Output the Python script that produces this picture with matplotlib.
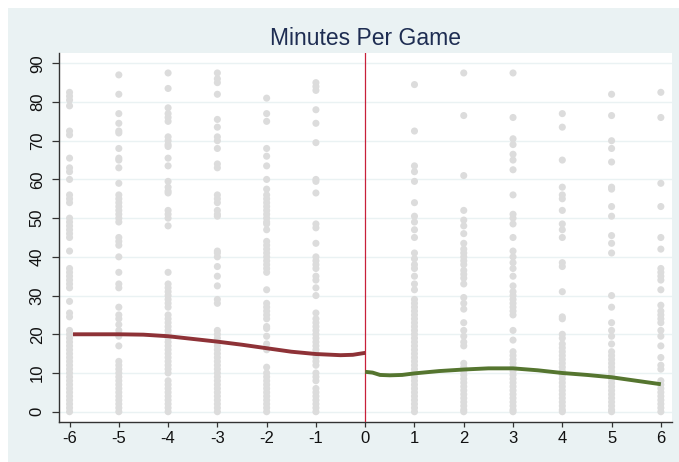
import matplotlib
matplotlib.use('Agg')
import matplotlib.pyplot as plt
from matplotlib.patches import Rectangle

plt.rcParams['font.family'] = ['Liberation Sans', 'DejaVu Sans']
plt.rcParams['axes.unicode_minus'] = False

# seasons relative to the event (x) and minutes per game of each player (y)
col_x = [-6, -5, -4, -3, -2, -1, 1, 2, 3, 4, 5, 6]

col_m6 = [82.5, 81.5, 80.5, 79, 72.5, 71.5, 65.5, 63, 62, 60, 56, 55, 54, 50, 49, 48,
          47, 46, 45, 41.5, 37, 36, 35, 34, 33, 32, 28.5, 25.5, 24.5, 21, 20, 19, 18,
          17, 16, 15, 14, 13, 12, 11, 10, 9, 8, 7, 6, 5, 4, 3, 2, 1, 0]
col_m5 = [87, 82, 77, 74.5, 72.5, 72, 68, 65.5, 65, 63, 59, 56, 55, 54, 53, 52, 51, 50,
          49, 45, 44, 43, 40, 36, 33, 32, 27, 25, 24, 22.5, 21, 20, 19.5, 17, 13, 12,
          11, 10, 9, 8, 7, 6, 5, 4, 3, 2, 1, 0]
col_m4 = [87.5, 83.5, 78.5, 77, 76, 75, 71, 70, 69, 68.5, 65.5, 63.5, 59.5, 58, 57,
          56.5, 52, 51, 50, 48, 36, 33, 32, 31, 30, 29, 28, 27, 25, 24, 23, 22, 21, 20,
          19.5, 19, 18, 17, 16, 15, 14, 13, 12, 11, 10, 8, 7, 6, 5, 4, 3, 2, 1, 0]
col_m3 = [87.5, 86, 85, 82, 75.5, 73.5, 71, 70, 68, 64, 63, 56, 55, 54, 52, 51, 50.5,
          41.5, 41, 40, 37.5, 35, 32.5, 29, 28, 21, 20, 19, 18, 17, 16, 15, 14, 13, 12,
          11, 10, 9, 8, 7, 6, 5, 4, 3, 2, 1, 0]
col_m2 = [81, 77, 75, 68, 66, 63.5, 60, 57.5, 56, 55, 54, 53, 52, 51, 50, 49, 48.5, 47,
          44, 43, 42, 41, 40, 39, 38, 37, 36, 31.5, 28, 27, 26, 25, 24, 22, 21.5, 19.5,
          17.5, 16, 11.5, 10, 9, 8, 7, 6, 5, 4, 3, 2, 1, 0]
col_m1 = [85, 84, 83, 78, 74.5, 69.5, 60, 59.5, 56.5, 48.5, 47.5, 43.5, 40, 39, 38, 37,
          35, 34, 32, 30, 25.5, 24, 23, 22, 21, 20, 19, 18, 17, 16, 15, 14, 13, 12, 10,
          9, 8, 6, 5, 4, 3, 2, 1, 0]
col_p1 = [84.5, 72.5, 63.5, 62, 59.5, 54, 50.5, 49, 47, 45, 41, 39.5, 38, 37, 35, 33,
          31.5, 29, 28, 27, 26, 25, 24, 23, 22, 21, 20, 19, 18, 17, 16, 15, 14, 13, 12,
          11, 10, 9, 8, 7, 6, 5, 4, 3, 2, 1, 0]
col_p2 = [87.5, 76.5, 61, 52, 49.5, 48, 46, 43.5, 42, 41, 40, 39, 38, 36.5, 35.5, 34.5,
          33, 29.5, 28, 26.5, 23, 21, 19.5, 18, 17, 12.5, 11.5, 10.5, 9.5, 8.5, 7.5, 6.5,
          5.5, 4.5, 3.5, 2.5, 1.5, 0.5, 0]
col_p3 = [87.5, 76, 70.5, 69, 66.5, 65, 62.5, 56, 51, 50, 48.5, 45, 41.5, 40, 38.5, 37,
          35, 32.5, 31, 30, 29, 28, 27, 26, 25, 21, 18.5, 15.5, 14.5, 13.5, 12.5, 11.5,
          10.5, 9.5, 8.5, 7.5, 6.5, 5.5, 4.5, 3.5, 2.5, 1.5, 0.5, 0]
col_p4 = [77, 73.5, 65, 58, 56, 55, 52, 48.5, 47, 45, 38.5, 37.5, 31, 24.5, 24, 20, 19,
          17.5, 16.5, 15.5, 14.5, 13.5, 12.5, 11.5, 10.5, 9.5, 8.5, 7.5, 6.5, 5.5, 4.5,
          3.5, 2.5, 1.5, 0.5, 0]
col_p5 = [82, 76.5, 70, 68, 64.5, 58, 57.5, 53, 50.5, 45.5, 43.5, 41, 30, 27, 23, 21,
          19.5, 17.5, 15.5, 14.5, 13.5, 12.5, 11.5, 10.5, 9.5, 8.5, 7.5, 6.5, 5.5, 4.5,
          3.5, 2.5, 1.5, 0.5, 0]
col_p6 = [82.5, 76, 59, 53, 45, 42, 37, 36, 35, 34, 31.5, 27.5, 26, 25, 24, 23, 21,
          19.5, 17, 14, 12, 11, 8, 7, 6, 5, 4, 3, 2, 1, 0]

cols = [col_m6, col_m5, col_m4, col_m3, col_m2, col_m1,
        col_p1, col_p2, col_p3, col_p4, col_p5, col_p6]

# local polynomial fits before / after
fit_pre_x = [-5.93, -5.5, -5, -4.5, -4, -3.5, -3, -2.5, -2, -1.5, -1, -0.5, -0.25, 0]
fit_pre_y = [20, 20, 20, 19.9, 19.5, 18.8, 18.1, 17.3, 16.4, 15.5, 14.9, 14.6, 14.7, 15.2]
fit_post_x = [0, 0.15, 0.3, 0.5, 0.75, 1, 1.5, 2, 2.5, 3, 3.5, 4, 4.5, 5, 5.5, 6]
fit_post_y = [10.3, 10.1, 9.5, 9.4, 9.5, 9.9, 10.5, 10.9, 11.2, 11.2, 10.7, 10.0, 9.5,
              8.9, 8.0, 7.1]

W, H = 679, 462
fig = plt.figure(figsize=(W / 100, H / 100), dpi=100)
fig.patch.set_facecolor('white')
fig.patches.append(Rectangle((8 / W, 0), 1 - 8 / W, 1 - 8 / H, transform=fig.transFigure,
                             facecolor='#eaf2f3', edgecolor='none', zorder=-10))

ax = fig.add_axes([58.7 / W, 1 - 421.7 / H, 613 / W, 368.4 / H])
ax.set_zorder(5)
ax.set_facecolor('white')

for xv, ys in zip(col_x, cols):
    ax.scatter([xv] * len(ys), ys, s=26, color='#dcdcdc', edgecolors='none', zorder=2)

ax.axvline(0, color='#c8203a', lw=0.9, zorder=3)
ax.plot(fit_pre_x, fit_pre_y, color='#8e3237', lw=2.8, zorder=4, solid_capstyle='butt')
ax.plot(fit_post_x, fit_post_y, color='#55752f', lw=2.8, zorder=4, solid_capstyle='butt')

ax.set_xlim(-6.22, 6.22)
ax.set_ylim(-2.58, 92.58)
ax.set_xticks(range(-6, 7))
ax.set_yticks(range(0, 91, 10))
ax.yaxis.grid(True, color='#eaf2f3', lw=1.0, zorder=0)
ax.set_axisbelow(True)

for s in ['top', 'right']:
    ax.spines[s].set_visible(False)
for s in ['left', 'bottom']:
    ax.spines[s].set_color('#333333')
    ax.spines[s].set_linewidth(1.0)

ax.tick_params(axis='x', length=3.6, width=0.9, color='#333333', pad=3,
               labelsize=12, labelcolor='#111111')
ax.tick_params(axis='y', length=5, width=0.9, color='#333333', pad=5,
               labelsize=12, labelcolor='#111111')
for lab in ax.get_yticklabels():
    lab.set_rotation(90)
    lab.set_va('center')

ax.set_title('Minutes Per Game', fontsize=16.5, color='#1e2d52', pad=6)

fig.savefig('out.png', dpi=100)
